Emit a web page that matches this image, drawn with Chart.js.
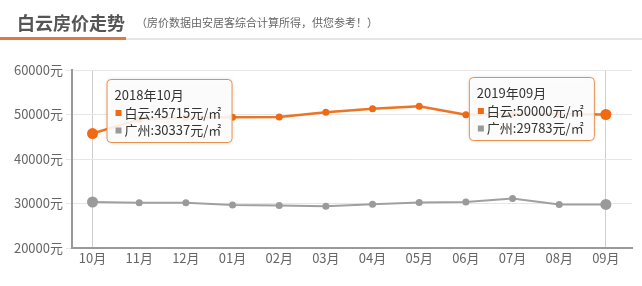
<!DOCTYPE html>
<html><head><meta charset="utf-8">
<script src="https://cdn.jsdelivr.net/npm/chart.js@4/dist/chart.umd.min.js"></script>
<style>
html,body{margin:0;padding:0;background:#fff;}
#wrap{position:relative;width:642px;height:286px;overflow:hidden;}
#hdr{position:absolute;left:0;top:0;width:642px;height:42px;font-family:"Noto Sans CJK SC",sans-serif;}
#title{position:absolute;left:17px;top:9px;font-size:18px;font-weight:bold;color:#555;white-space:nowrap;}
#sub{position:absolute;left:136px;top:14px;font-size:11px;color:#666;white-space:nowrap;}
#bar1{position:absolute;left:0;top:37px;width:126px;height:3px;background:#e2773f;}
#bar2{position:absolute;left:126px;top:38px;width:516px;height:2px;background:#e6e6e6;}
canvas{position:absolute;left:0;top:0;}
</style></head>
<body><div id="wrap">
<canvas id="c" width="642" height="286"></canvas>
<div id="hdr"><div id="title">白云房价走势</div><div id="sub">（房价数据由安居客综合计算所得，供您参考！）</div><div id="bar1"></div><div id="bar2"></div></div>
</div>
<script>
const categories = ['10月','11月','12月','01月','02月','03月','04月','05月','06月','07月','08月','09月'];
const fullMonths = ['2018年10月','2018年11月','2018年12月','2019年01月','2019年02月','2019年03月','2019年04月','2019年05月','2019年06月','2019年07月','2019年08月','2019年09月'];
const baiyun = [45715, 48900, 49300, 49370, 49440, 50490, 51300, 51840, 49960, 50100, 50050, 50000];
const guangzhou = [30337, 30150, 30150, 29690, 29550, 29400, 29850, 30220, 30360, 31100, 29800, 29783];
const yTicks = [20000, 30000, 40000, 50000, 60000];
const seriesNames = ['白云', '广州'];
const shownTips = [0, 11];

const ORANGE = '#ef6a12', GRAY = '#9a9a9a';
const FONT = '"Noto Sans CJK SC", sans-serif';

const tipPlugin = {
  id: 'tips',
  afterDatasetsDraw(chart) {
    const ctx = chart.ctx, xs = chart.scales.x, area = chart.chartArea;
    shownTips.forEach((idx, k) => {
      const px = xs.getPixelForValue(idx);
      const w = 125, h = 63;
      const left = k === 0 ? px + 14 : px - 12 - w;
      const top = k === 0 ? area.top + 9 : area.top + 7;
      ctx.save();
      ctx.shadowColor = 'rgba(0,0,0,0.15)';
      ctx.shadowBlur = 4;
      ctx.fillStyle = 'rgba(255,255,255,0.88)';
      ctx.strokeStyle = '#e98f4e';
      ctx.lineWidth = 1;
      ctx.beginPath();
      ctx.roundRect(left + 0.5, top + 0.5, w, h, 4);
      ctx.fill();
      ctx.shadowColor = 'transparent';
      ctx.stroke();
      ctx.fillStyle = '#333';
      ctx.font = '13px ' + FONT;
      ctx.textBaseline = 'middle';
      ctx.fillText(fullMonths[idx], left + 8, top + 16);
      const vals = [baiyun[idx], guangzhou[idx]];
      const cols = [ORANGE, GRAY];
      for (let i = 0; i < 2; i++) {
        const y = top + 34 + i * 17.5;
        ctx.fillStyle = cols[i];
        ctx.fillRect(left + 9, y - 3, 6, 6);
        ctx.fillStyle = '#333';
        ctx.fillText(seriesNames[i] + ':' + vals[i] + '元/㎡', left + 18, y);
      }
      ctx.restore();
    });
  }
};

new Chart(document.getElementById('c'), {
  type: 'line',
  data: {
    datasets: [
      {
        label: seriesNames[0],
        data: baiyun.map((v, i) => ({x: i, y: v})),
        borderColor: '#ec7424', backgroundColor: ORANGE,
        borderWidth: 2.5,
        pointRadius: ctx => shownTips.includes(ctx.dataIndex) ? 5.5 : 3.5,
        pointBackgroundColor: ORANGE, pointBorderWidth: 0,
        tension: 0, order: 1
      },
      {
        label: seriesNames[1],
        data: guangzhou.map((v, i) => ({x: i, y: v})),
        borderColor: '#a0a0a0', backgroundColor: GRAY,
        borderWidth: 2,
        pointRadius: ctx => shownTips.includes(ctx.dataIndex) ? 5.5 : 3.5,
        pointBackgroundColor: GRAY, pointBorderWidth: 0,
        tension: 0, order: 2
      }
    ]
  },
  options: {
    responsive: false, animation: false,
    layout: {padding: {top: 70, right: 10, bottom: 0, left: 0}},
    plugins: {legend: {display: false}, tooltip: {enabled: false}, title: {display: false}},
    scales: {
      x: {
        type: 'linear', min: -0.44, max: 11.56,
        afterBuildTicks: s => { s.ticks = categories.map((c, i) => ({value: i})); },
        afterFit: s => { s.height = 38; },
        ticks: {
          callback: (v) => categories[v],
          font: {size: 13, family: FONT}, color: '#666', padding: 2, maxRotation: 0, autoSkip: false
        },
        grid: {
          drawTicks: false,
          color: c => (c.index === 0 || c.index === categories.length - 1) ? '#cfcfcf' : 'rgba(0,0,0,0)',
          lineWidth: 1
        },
        border: {color: '#999', width: 2}
      },
      y: {
        min: 20000, max: 60000,
        afterBuildTicks: s => { s.ticks = yTicks.map(v => ({value: v})); },
        afterFit: s => { s.width = 72; },
        ticks: {
          callback: v => v + '元',
          font: {size: 13, family: FONT}, color: '#666', padding: 3
        },
        grid: {color: '#e6e6e6', lineWidth: 1, tickLength: 6, tickColor: '#e6e6e6'},
        border: {color: '#999', width: 2}
      }
    }
  },
  plugins: [tipPlugin]
});
</script>
</body></html>
